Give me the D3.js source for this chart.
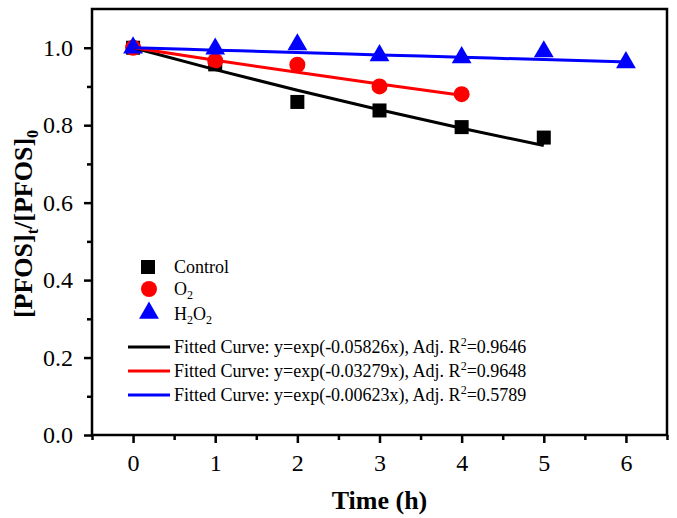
<!DOCTYPE html>
<html><head><meta charset="utf-8">
<script src="https://cdn.jsdelivr.net/npm/d3@7"></script>
<style>body{margin:0;background:#fff}svg{display:block}</style>
</head><body><svg id="c" width="677" height="518"></svg>
<script>
const timeControl = [0,1,2,3,4,5];
const valControl = [1.0,0.957,0.860,0.838,0.795,0.768];
const timeO2 = [0,1,2,3,4];
const valO2 = [1.0,0.966,0.956,0.900,0.880];
const timeH2O2 = [0,1,2,3,4,5,6];
const valH2O2 = [1.0,0.997,1.008,0.980,0.975,0.990,0.962];
// fitted curve values (as plotted)
const fitControl = [1.0,0.9434,0.8901,0.8397,0.7922,0.7474];
const fitO2 = [1.0,0.9677,0.9365,0.9063,0.8771];
const fitH2O2 = [1.0,0.9938,0.9876,0.9815,0.9754,0.9693,0.9633];
const xTicks = [0,1,2,3,4,5,6];
const yTicks = [0.0,0.2,0.4,0.6,0.8,1.0];
const legendSeries = ["Control","O2","H2O2"];
const fitLabels = [
  ["Fitted Curve: y=exp(-0.05826x), Adj. R","2","=0.9646"],
  ["Fitted Curve: y=exp(-0.03279x), Adj. R","2","=0.9648"],
  ["Fitted Curve: y=exp(-0.00623x), Adj. R","2","=0.5789"]
];
const colors = ["#000000","#ff0000","#0000ff"];

const svg = d3.select("#c");
const L=92,R=667,T=9,B=435;
const x = d3.scaleLinear().domain([-0.5,6.5]).range([L,R]);
const y = d3.scaleLinear().domain([0,1.1]).range([B,T]);
const serif = "'Liberation Serif','Times New Roman',serif";

// axes
const xMinor = d3.range(-0.5,6.51,0.5).filter(v=>Math.abs(v-Math.round(v))>0.01);
const yMinor = d3.range(0.1,1.1,0.2);
const gx = svg.append("g").attr("transform",`translate(0,${B})`);
gx.call(d3.axisBottom(x).tickValues(xMinor).tickSize(5).tickFormat(""));
gx.call(g=>g.select(".domain").remove());
const gx2 = svg.append("g").attr("transform",`translate(0,${B})`)
  .call(d3.axisBottom(x).tickValues(xTicks).tickSize(8).tickPadding(11).tickFormat(d3.format("d")));
gx2.select(".domain").remove();
svg.selectAll("g line").attr("stroke","#000").attr("stroke-width",2.5);
gx2.selectAll("text").attr("font-family",serif).attr("font-size",24).attr("fill","#000");

const gy = svg.append("g").attr("transform",`translate(${L},0)`);
gy.call(d3.axisLeft(y).tickValues(yMinor).tickSize(5).tickFormat(""));
gy.select(".domain").remove();
const gy2 = svg.append("g").attr("transform",`translate(${L},0)`)
  .call(d3.axisLeft(y).tickValues(yTicks).tickSize(8).tickPadding(11).tickFormat(d3.format(".1f")));
gy2.select(".domain").remove();
gy.selectAll("line").attr("stroke","#000").attr("stroke-width",2.5);
gy2.selectAll("line").attr("stroke","#000").attr("stroke-width",2.5);
gy2.selectAll("text").attr("font-family",serif).attr("font-size",24).attr("fill","#000");

svg.append("rect").attr("x",L).attr("y",T).attr("width",R-L).attr("height",B-T)
  .attr("fill","none").attr("stroke","#000").attr("stroke-width",2.5);

// markers
const plot = svg.append("g");
plot.selectAll(".sq").data(timeControl).join("rect")
  .attr("x",(d)=>x(d)-7).attr("y",(d,i)=>y(valControl[i])-7).attr("width",14).attr("height",14).attr("fill",colors[0]);
plot.selectAll(".ci").data(timeO2).join("circle")
  .attr("cx",d=>x(d)).attr("cy",(d,i)=>y(valO2[i])).attr("r",8).attr("fill",colors[1]);
const tri = d3.symbol().type(d3.symbolTriangle).size(170);
plot.selectAll(".tr").data(timeH2O2).join("path")
  .attr("d",tri).attr("transform",(d,i)=>`translate(${x(d)},${y(valH2O2[i])})`).attr("fill",colors[2]);

// fits
const line = d3.line().x(d=>x(d[0])).y(d=>y(d[1])).curve(d3.curveMonotoneX);
[[timeControl,fitControl],[timeO2,fitO2],[timeH2O2,fitH2O2]].forEach(([t,v],k)=>{
  plot.append("path").datum(t.map((d,i)=>[d,v[i]])).attr("d",line)
    .attr("fill","none").attr("stroke",colors[k]).attr("stroke-width",3);
});

// legend
const lg = svg.append("g").attr("font-family",serif).attr("font-size",18).attr("fill","#000");
const lx = 148, tx = 174;
lg.append("rect").attr("x",lx-7).attr("y",267-7).attr("width",14).attr("height",14).attr("fill",colors[0]);
lg.append("circle").attr("cx",lx+1).attr("cy",289).attr("r",8).attr("fill",colors[1]);
lg.append("path").attr("d",tri).attr("transform",`translate(${lx+1},313)`).attr("fill",colors[2]);
lg.append("text").attr("x",tx).attr("y",273).text(legendSeries[0]);
const t2 = lg.append("text").attr("x",tx).attr("y",295);
t2.append("tspan").text("O");
t2.append("tspan").attr("font-size",12).attr("dy",4).text("2");
const t3 = lg.append("text").attr("x",tx).attr("y",320);
t3.append("tspan").text("H");
t3.append("tspan").attr("font-size",12).attr("dy",4).text("2");
t3.append("tspan").attr("dy",-4).text("O");
t3.append("tspan").attr("font-size",12).attr("dy",4).text("2");
fitLabels.forEach((lab,k)=>{
  const yy = 347 + k*24;
  lg.append("line").attr("x1",128).attr("x2",170).attr("y1",yy).attr("y2",yy)
    .attr("stroke",colors[k]).attr("stroke-width",3);
  const t = lg.append("text").attr("x",tx).attr("y",yy+6);
  t.append("tspan").text(lab[0]);
  t.append("tspan").attr("font-size",12).attr("dy",-7).text(lab[1]);
  t.append("tspan").attr("dy",7).text(lab[2]);
});

// axis titles
svg.append("text").attr("x",(L+R)/2).attr("y",509).attr("text-anchor","middle")
  .attr("font-family",serif).attr("font-weight","bold").attr("font-size",26).text("Time (h)");
const yl = svg.append("text").attr("transform","translate(32,224) rotate(-90)").attr("text-anchor","middle")
  .attr("font-family",serif).attr("font-weight","bold").attr("font-size",26);
yl.append("tspan").text("[PFOS]");
yl.append("tspan").attr("font-size",16).attr("dy",6).text("t");
yl.append("tspan").attr("dy",-6).text("/[PFOS]");
yl.append("tspan").attr("font-size",16).attr("dy",6).text("0");
</script></body></html>
